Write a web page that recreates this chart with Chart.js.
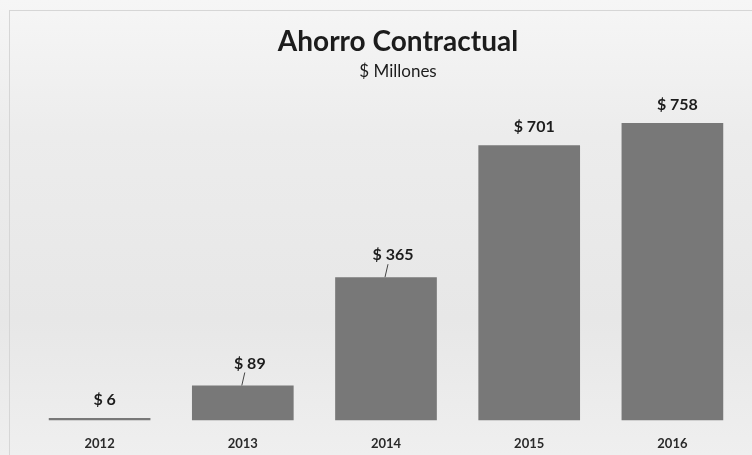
<!DOCTYPE html>
<html>
<head>
<meta charset="utf-8">
<script src="https://cdn.jsdelivr.net/npm/chart.js@4/dist/chart.umd.min.js"></script>
<style>
  html, body { margin: 0; padding: 0; }
  body {
    width: 752px; height: 455px; overflow: hidden;
    background: linear-gradient(#f6f6f6 0%, #ececec 30%, #e7e7e7 70%, #efefef 100%);
  }
  #frame {
    position: absolute; left: 9px; top: 10px; width: 760px; height: 460px;
    border-left: 1px solid #d6d6d6; border-top: 1px solid #d6d6d6;
  }
  #wrap { position: absolute; left: 0; top: 0; width: 752px; height: 455px; }
</style>
</head>
<body>
<div id="frame"></div>
<div id="wrap"><canvas id="chart-ahorro" width="752" height="455"></canvas></div>
<script>
  // Ahorro contractual, millones de pesos
  var years = ['2012', '2013', '2014', '2015', '2016'];
  var ahorro = [6, 89, 365, 701, 758];
  var valueLabels = ['$ 6', '$ 89', '$ 365', '$ 701', '$ 758'];

  var FONT = 'Lato, "Open Sans", sans-serif';

  // title + subtitle, drawn a bit right of centre like the original slide
  var header = {
    id: 'header',
    afterDraw: function(chart) {
      var ctx = chart.ctx;
      ctx.save();
      ctx.fillStyle = '#1c1c1c';
      ctx.textAlign = 'center';
      ctx.textBaseline = 'middle';
      ctx.font = 'bold 28px ' + FONT;
      ctx.fillText('Ahorro Contractual', 398, 42);
      ctx.font = '17px ' + FONT;
      ctx.fillText('$ Millones', 398, 72);
      ctx.restore();
    }
  };

  // value labels above each bar, with a short leader on the mid bars
  var barLabels = {
    id: 'barLabels',
    afterDatasetsDraw: function(chart, args, opts) {
      var ctx = chart.ctx;
      var bars = chart.getDatasetMeta(0).data;
      ctx.save();
      ctx.fillStyle = '#1c1c1c';
      ctx.strokeStyle = '#444';
      ctx.lineWidth = 1;
      ctx.textAlign = 'center';
      ctx.textBaseline = 'middle';
      ctx.font = 'bold 16px ' + FONT;
      bars.forEach(function(bar, i) {
        var lead = opts.leaders.indexOf(i) !== -1;
        var y = bar.y - (lead ? 22 : 18);
        ctx.fillText(valueLabels[i], bar.x + (lead ? 7 : 5), y);
        if (lead) {
          ctx.beginPath();
          ctx.moveTo(bar.x + 2, y + 9);
          ctx.lineTo(bar.x - 1, bar.y);
          ctx.stroke();
        }
      });
      ctx.restore();
    }
  };

  new Chart('chart-ahorro', {
    type: 'bar',
    data: {
      labels: years,
      datasets: [{
        data: ahorro,
        backgroundColor: '#787878',
        barPercentage: 0.71,
        categoryPercentage: 1
      }]
    },
    options: {
      responsive: false,
      animation: false,
      devicePixelRatio: 1,
      layout: { padding: { left: 28, right: 8, top: 28, bottom: -13 } },
      plugins: {
        legend: { display: false },
        tooltip: { enabled: false },
        barLabels: { leaders: [1, 2] }
      },
      scales: {
        x: {
          grid: { display: false, drawTicks: false },
          border: { display: false },
          ticks: { color: '#2a2a2a', padding: 16, font: { family: FONT, size: 13, weight: 'bold' } }
        },
        y: { display: false, min: 0, max: 1000 }
      }
    },
    plugins: [header, barLabels]
  });
</script>
</body>
</html>
